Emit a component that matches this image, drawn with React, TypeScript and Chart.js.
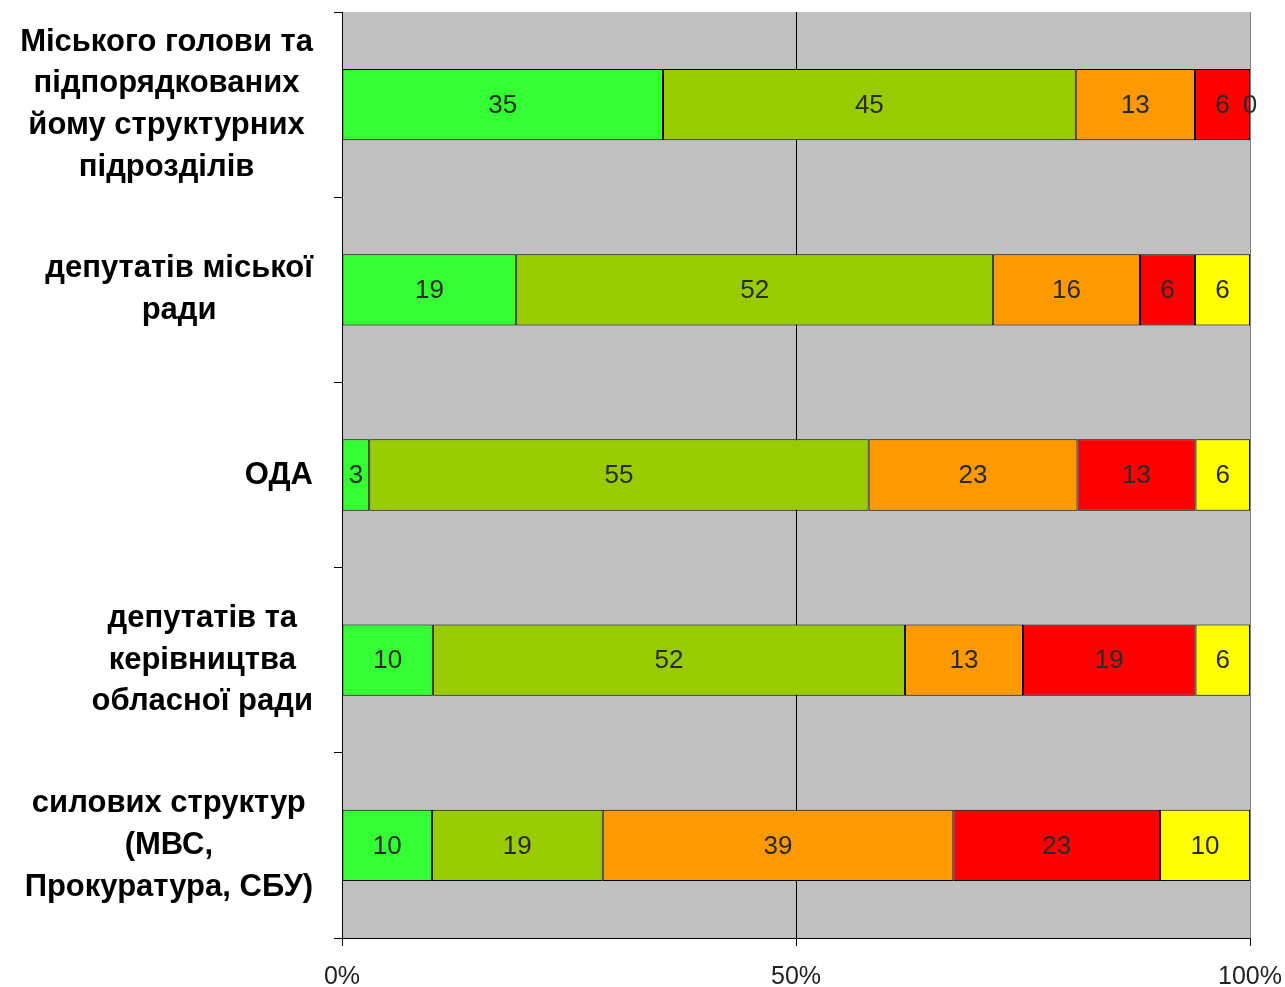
import React, { useEffect, useRef } from "react";
import { Chart, registerables } from "chart.js";

Chart.register(...registerables);

const categories: string[][] = [
  ["Міського голови та", "підпорядкованих", "йому структурних", "підрозділів"],
  ["депутатів міської", "ради"],
  ["ОДА"],
  ["депутатів та", "керівництва", "обласної ради"],
  ["силових структур", "(МВС,", "Прокуратура, СБУ)"],
];

const series1 = [35, 19, 3, 10, 10];
const series2 = [45, 52, 55, 52, 19];
const series3 = [13, 16, 23, 13, 39];
const series4 = [6, 6, 13, 19, 23];
const series5 = [0, 6, 6, 6, 10];

const seriesList = [series1, series2, series3, series4, series5];
const seriesColors = ["#33FF33", "#99CC00", "#FF9900", "#FF0000", "#FFFF00"];
const xTicks = [0, 50, 100];

const totals = categories.map((_, i) => seriesList.reduce((s, arr) => s + arr[i], 0));

const bgPlugin = {
  id: "plotBg",
  beforeDraw(chart: any) {
    const { ctx, chartArea } = chart;
    ctx.save();
    ctx.fillStyle = "#C0C0C0";
    ctx.fillRect(chartArea.left, chartArea.top, chartArea.right - chartArea.left, chartArea.bottom - chartArea.top);
    ctx.restore();
  },
};

const labelsPlugin = {
  id: "customLabels",
  afterDatasetsDraw(chart: any) {
    const { ctx } = chart;
    ctx.save();
    ctx.font = '26px "Liberation Sans"';
    ctx.fillStyle = "#2a2a2a";
    ctx.textAlign = "center";
    ctx.textBaseline = "middle";
    chart.data.datasets.forEach((ds: any, di: number) => {
      const meta = chart.getDatasetMeta(di);
      meta.data.forEach((el: any, i: number) => {
        const p = el.getCenterPoint();
        ctx.fillText(String(ds.raw[i]), p.x, p.y + 1);
      });
    });
    ctx.restore();
  },
  afterDraw(chart: any) {
    const { ctx } = chart;
    const yScale = chart.scales.y;
    ctx.save();
    ctx.font = 'bold 31px "Liberation Sans"';
    ctx.fillStyle = "#000";
    ctx.textAlign = "center";
    ctx.textBaseline = "middle";
    const lineH = 41.7;
    const rightEdge = 313;
    categories.forEach((lines, i) => {
      const cy = yScale.getPixelForValue(i);
      const w = Math.max(...lines.map((l) => ctx.measureText(l).width));
      const cx = rightEdge - w / 2;
      lines.forEach((l, j) => {
        ctx.fillText(l, cx, cy + (j - (lines.length - 1) / 2) * lineH);
      });
    });
    ctx.restore();
  },
};

export default function App() {
  const ref = useRef<HTMLCanvasElement>(null);
  useEffect(() => {
    if (!ref.current) return;
    const chart = new Chart(ref.current, {
      type: "bar",
      data: {
        labels: categories,
        datasets: seriesList.map((arr, k) => ({
          label: "s" + (k + 1),
          data: arr.map((v, i) => (v / totals[i]) * 100),
          raw: arr,
          backgroundColor: seriesColors[k],
          borderColor: "#000000",
          borderWidth: 1,
          borderSkipped: false,
          barPercentage: 0.385,
          categoryPercentage: 1,
        })) as any,
      },
      options: {
        indexAxis: "y",
        responsive: false,
        animation: false,
        devicePixelRatio: 1,
        layout: { padding: { top: 12, right: 35, left: 0, bottom: 0 } },
        plugins: { legend: { display: false }, tooltip: { enabled: false } },
        scales: {
          x: {
            stacked: true,
            min: 0,
            max: 100,
            afterBuildTicks: (s: any) => {
              s.ticks = xTicks.map((v) => ({ value: v }));
            },
            afterFit: (s: any) => {
              s.height = 49;
              s.paddingLeft = 0;
              s.paddingRight = 0;
            },
            ticks: {
              callback: (v: any) => v + "%",
              font: { family: '"Liberation Sans"', size: 25 },
              color: "#222",
              padding: 16,
              maxRotation: 0,
            },
            grid: {
              color: (c: any) => (c.tick && c.tick.value === 50 ? "#000" : c.tick && c.tick.value === 100 ? "#808080" : "rgba(0,0,0,0)"),
              tickColor: "#000",
              tickLength: 8,
              drawTicks: true,
            },
            border: { display: true, color: "#000", width: 1 },
          },
          y: {
            stacked: true,
            afterFit: (s: any) => {
              s.width = 342;
              s.paddingTop = 0;
              s.paddingBottom = 0;
            },
            ticks: { display: false },
            grid: {
              offset: true,
              drawOnChartArea: false,
              drawTicks: true,
              tickLength: 8,
              color: "#000",
              tickColor: "#000",
            },
            border: { display: true, color: "#000", width: 1 },
          },
        },
      },
      plugins: [bgPlugin, labelsPlugin],
    });
    return () => chart.destroy();
  }, []);
  return (
    <div style={{ position: "absolute", left: 0, top: 0, width: 1285, height: 987, background: "#fff" }}>
      <canvas ref={ref} width={1285} height={987} style={{ width: 1285, height: 987 }} />
    </div>
  );
}
